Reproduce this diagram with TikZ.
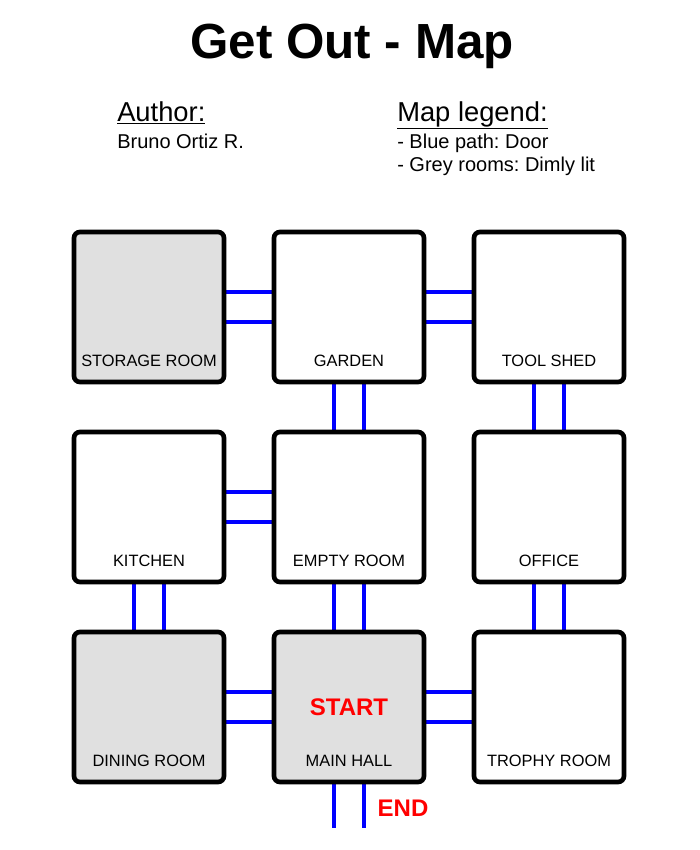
\documentclass[tikz,border=0pt]{standalone}
\usepackage{fontspec}
\setmainfont{Liberation Sans}
\usetikzlibrary{positioning,backgrounds}
\frenchspacing
\definecolor{wall}{HTML}{000000}
\definecolor{dim}{HTML}{E0E0E0}
\definecolor{doorblue}{HTML}{0000FF}
\definecolor{signred}{HTML}{FF0000}
\tikzset{
  room/.style={draw=wall, fill=white, line width=3.5pt, rounded corners=4.5pt, minimum size=112.5pt, inner sep=0pt, outer sep=0pt},
  dimlit/.style={fill=dim},
  tag/.style={anchor=base, inner sep=0pt, font=\fontsize{12.3}{14}\selectfont},
  door/.style={draw=doorblue, line width=3pt},
  sign/.style={text=signred, inner sep=0pt, font=\bfseries\fontsize{18}{20}\selectfont},
  head/.style={anchor=base west, inner sep=0pt, font=\fontsize{20.5}{24}\selectfont},
  info/.style={anchor=base west, inner sep=0pt, font=\fontsize{15}{18}\selectfont},
}

\begin{document}
\begin{tikzpicture}[x=0.75pt, y=-0.75pt, node distance=37.5pt]
\useasboundingbox (0,0) rectangle (700,850);
% header
\node[anchor=base, inner sep=0pt, font=\bfseries\fontsize{37}{40}\selectfont] (title) at (352,58) {Get Out - Map};
\node[head] (author) at (117,121) {\underline{Author:}};
\node[info] (name) at (117,148) {Bruno Ortiz R.};
\node[head] (legend) at (397,121) {\underline{Map legend:}};
\node[info] (blue) at (397,148) {- Blue path: Door};
\node[info] (grey) at (397,171.5) {- Grey rooms: Dimly lit};
% rooms
\node[room, dimlit] (store) at (149,307) {};
\node[room, right=of store] (garden) {};
\node[room, right=of garden] (shed) {};
\node[room, below=of store] (kitchen) {};
\node[room, right=of kitchen] (empty) {};
\node[room, right=of empty] (office) {};
\node[room, dimlit, below=of kitchen] (dining) {};
\node[room, dimlit, right=of dining] (hall) {};
\node[room, right=of hall] (trophy) {};
\coordinate[below=34.5pt of hall.south] (exit);
\foreach \n/\t in {store/STORAGE ROOM, garden/GARDEN, shed/TOOL SHED, kitchen/KITCHEN, empty/EMPTY ROOM, office/OFFICE, dining/DINING ROOM, hall/MAIN HALL, trophy/TROPHY ROOM}
  \node[tag] (\n-tag) at ([yshift=12pt]\n.south) {\t};
% doors
\begin{scope}[on background layer]
\foreach \a/\b in {store/garden, garden/shed, kitchen/empty, dining/hall, hall/trophy}
  \foreach \s in {-11.25pt, 11.25pt}
    \draw[door] ([yshift=\s]\a.east) -- ([yshift=\s]\b.west);
\foreach \a/\b in {garden/empty, shed/office, kitchen/dining, empty/hall, office/trophy}
  \foreach \s in {-11.25pt, 11.25pt}
    \draw[door] ([xshift=\s]\a.south) -- ([xshift=\s]\b.north);
\foreach \s in {-11.25pt, 11.25pt}
  \draw[door] ([xshift=\s]hall.south) -- ([xshift=\s]exit);
\end{scope}
\node[sign] (start) at (hall) {START};
\node[sign] (finish) at (403,808) {END};
\end{tikzpicture}
\end{document}
